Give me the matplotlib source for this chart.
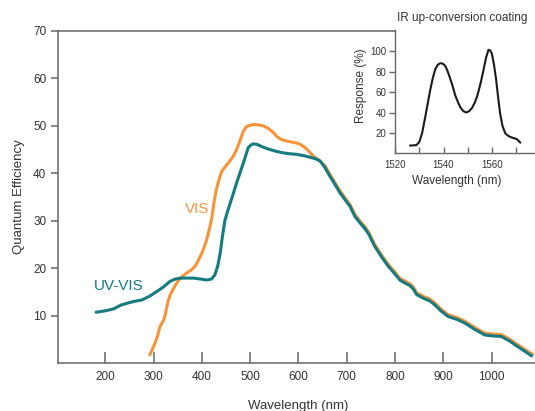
import matplotlib
matplotlib.use("Agg")
import matplotlib.pyplot as plt
from matplotlib.ticker import MultipleLocator

plt.rcParams["font.family"] = ["Liberation Sans", "DejaVu Sans"]

ORANGE = "#F7943A"
TEAL = "#167B80"
SPINE = "#666666"
TEXT = "#333333"

# UV-VIS sensor
uv_wl = [181, 200, 217, 232, 245, 260, 276, 292, 307, 320, 334, 345, 355, 370, 383, 397,
         410, 420, 427, 433, 438, 443, 448, 454, 459, 466, 472, 479, 486, 491, 496, 502,
         507, 514, 527, 541, 555, 569, 583, 596, 612, 627, 637, 645, 655, 665, 676, 686,
         696, 707, 717, 727, 738, 746, 758, 772, 786, 798, 810, 820, 831, 838, 845, 860,
         872, 882, 895, 910, 928, 945, 965, 986, 1003, 1020, 1038, 1055, 1070, 1083]
uv_qe = [10.7, 11.0, 11.4, 12.2, 12.6, 13.0, 13.3, 14.1, 15.1, 16.0, 17.2, 17.7, 17.9, 17.9, 17.9, 17.7,
         17.5, 17.7, 18.6, 20.5, 23.2, 27.0, 30.2, 32.2, 33.8, 36.0, 38.0, 40.1, 42.2, 43.8, 45.4, 46.0,
         46.2, 46.1, 45.5, 45.0, 44.6, 44.3, 44.1, 44.0, 43.7, 43.3, 43.0, 42.6, 41.2, 39.4, 37.6, 35.9,
         34.5, 33.0, 30.9, 29.6, 28.3, 27.1, 24.6, 22.4, 20.4, 19.0, 17.5, 16.9, 16.3, 15.6, 14.4, 13.6,
         13.1, 12.3, 11.0, 9.8, 9.2, 8.4, 7.1, 5.9, 5.7, 5.6, 4.6, 3.4, 2.4, 1.5]

# VIS sensor (runs just above the UV-VIS curve past ~650 nm)
vis_wl = [292, 298, 303, 308, 312, 316, 321, 325, 329, 333, 338, 345, 352, 360, 369, 378,
          386, 393, 400, 405, 410, 416, 421, 425, 430, 436, 441, 450, 458, 465, 472, 479,
          486, 493, 500, 507, 517, 527, 537, 548, 556, 565, 580, 596, 605, 614, 622, 631,
          640, 648, 655, 665, 676, 686, 696, 707, 717, 727, 738, 746, 758, 772, 786, 798,
          810, 820, 831, 838, 845, 860, 872, 882, 895, 910, 928, 945, 965, 986, 1003, 1020,
          1038, 1055, 1070, 1085]
vis_qe = [1.7, 3.0, 4.2, 5.6, 7.3, 8.2, 9.1, 10.6, 12.6, 14.0, 15.1, 16.4, 17.5, 18.3, 19.0, 19.6,
          20.4, 21.7, 23.2, 24.5, 26.0, 28.4, 30.9, 33.8, 36.6, 38.8, 40.4, 41.6, 42.6, 43.6, 45.0, 46.9,
          48.9, 49.9, 50.1, 50.3, 50.2, 50.0, 49.5, 48.6, 47.7, 47.1, 46.7, 46.4, 46.0, 45.4, 44.6, 43.6,
          42.9, 42.2, 41.6, 39.8, 38.0, 36.3, 34.9, 33.4, 31.3, 30.0, 28.7, 27.5, 25.0, 22.8, 20.8, 19.4,
          17.9, 17.3, 16.7, 16.0, 14.8, 14.0, 13.5, 12.7, 11.4, 10.2, 9.6, 8.8, 7.5, 6.3, 6.1, 6.0,
          5.0, 3.8, 2.8, 1.8]

# IR up-conversion coating response
ir_wl = [1526.3, 1528.8, 1530.0, 1531.2, 1532.5, 1533.5, 1534.5, 1535.6, 1536.6, 1537.6, 1538.6, 1539.7,
         1540.7, 1541.7, 1542.7, 1543.8, 1544.8, 1545.9, 1546.9, 1548.1, 1549.3, 1550.5, 1551.7, 1552.9,
         1554.0, 1555.3, 1556.5, 1557.5, 1558.5, 1559.2, 1559.9, 1560.8, 1561.7, 1562.5, 1563.3, 1564.3,
         1565.4, 1566.7, 1568.1, 1569.2, 1570.2, 1571.6]
ir_resp = [7.6, 8.0, 11.0, 20.0, 36.0, 49.0, 62.0, 74.0, 82.5, 86.8, 88.4, 88.0,
           85.8, 80.5, 73.7, 65.5, 57.0, 50.5, 45.3, 41.5, 40.0, 41.3, 44.3, 49.8,
           57.0, 69.0, 82.0, 93.5, 101.5, 101.0, 98.0, 87.0, 72.0, 55.0, 39.4, 27.0,
           19.8, 17.0, 15.5, 14.7, 13.9, 10.6]

main_xticks = [200, 300, 400, 500, 600, 700, 800, 900, 1000]
main_yticks = [10, 20, 30, 40, 50, 60, 70]
ir_xticks = [1520, 1540, 1560]
ir_yticks = [20, 40, 60, 80, 100]


def style_spines(ax):
    ax.spines["right"].set_visible(False)
    for s in ("left", "bottom", "top"):
        ax.spines[s].set_color(SPINE)
        ax.spines[s].set_linewidth(1.1)


fig = plt.figure(figsize=(5.35, 4.11), dpi=100)
ax = fig.add_axes([0.1075, 0.1168, 0.8925, 0.8078])

ax.plot(vis_wl, vis_qe, color=ORANGE, lw=2.2, solid_capstyle="round", solid_joinstyle="round", zorder=3)
ax.plot(uv_wl, uv_qe, color=TEAL, lw=2.2, solid_capstyle="round", solid_joinstyle="round", zorder=4)

ax.set_xlim(101, 1090)
ax.set_ylim(0, 70)
ax.set_xticks(main_xticks)
ax.set_yticks(main_yticks)
style_spines(ax)
ax.tick_params(axis="x", direction="in", length=8, width=1.1, color=SPINE,
               labelsize=8.5, labelcolor=TEXT, pad=6)
ax.tick_params(axis="y", direction="out", length=5, width=1.1, color=SPINE,
               labelsize=8.5, labelcolor=TEXT, pad=3)

ax.set_xlabel("Wavelength (nm)", fontsize=9.5, color=TEXT)
ax.xaxis.set_label_coords(0.503, -0.112)
ax.set_ylabel("Quantum Efficiency", fontsize=9.5, color=TEXT)
ax.yaxis.set_label_coords(-0.068, 0.5)

ax.text(390, 32.5, "VIS", color=ORANGE, fontsize=11, ha="center", va="center")
ax.text(227, 16.3, "UV-VIS", color=TEAL, fontsize=11, ha="center", va="center")

# inset: IR up-conversion coating
ins = fig.add_axes([0.7383, 0.6270, 0.2617, 0.2988])
ins.plot(ir_wl, ir_resp, color="#1a1a1a", lw=1.5)
ins.set_xlim(1520, 1577.7)
ins.set_ylim(0, 120.5)
ins.set_xticks(ir_xticks)
ins.xaxis.set_minor_locator(MultipleLocator(10))
ins.set_yticks(ir_yticks)
ins.spines["right"].set_visible(False)
ins.spines["top"].set_visible(False)
for s in ("left", "bottom"):
    ins.spines[s].set_color(SPINE)
    ins.spines[s].set_linewidth(1.0)
ins.tick_params(axis="x", which="both", direction="in", length=4, width=1.0, color=SPINE,
                labelsize=7, labelcolor=TEXT, pad=5)
ins.tick_params(axis="y", direction="out", length=4, width=1.0, color=SPINE,
                labelsize=7, labelcolor=TEXT, pad=2)
ins.set_xlabel("Wavelength (nm)", fontsize=8.5, color=TEXT)
ins.xaxis.set_label_coords(0.44, -0.175)
ins.set_ylabel("Response (%)", fontsize=8.5, color=TEXT)
ins.yaxis.set_label_coords(-0.20, 0.55)
ins.set_title("IR up-conversion coating", fontsize=8.5, color=TEXT, pad=7, x=0.48)

fig.savefig("out.png", dpi=100)
